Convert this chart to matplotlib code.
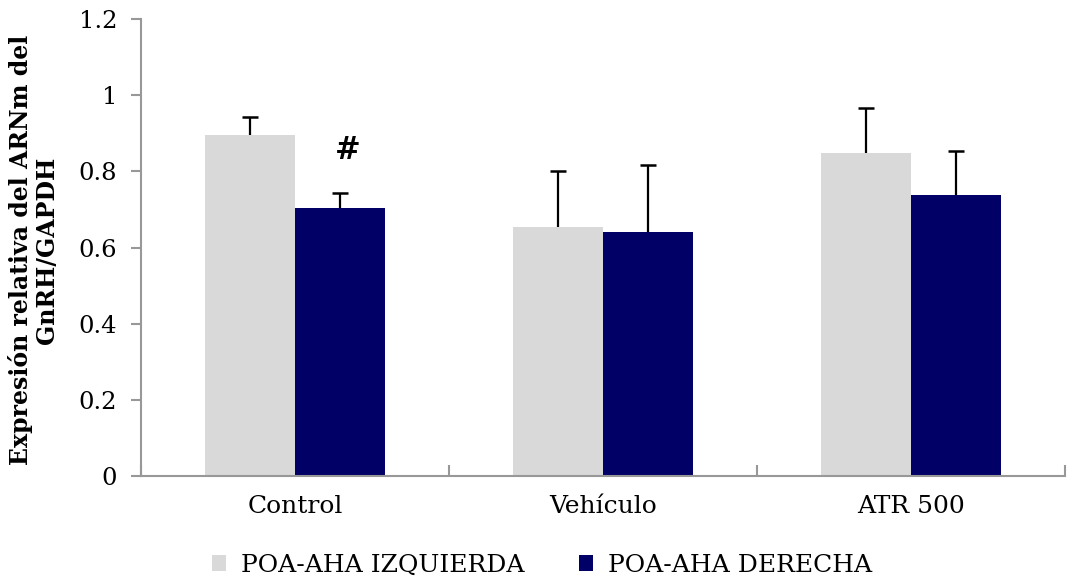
import numpy as np
import matplotlib as mpl
mpl.use('Agg')
import matplotlib.pyplot as plt

groups = ["Control", "Vehículo", "ATR 500"]
izquierda = [0.895, 0.654, 0.849]
izquierda_err = [0.047, 0.148, 0.117]
derecha = [0.703, 0.640, 0.738]
derecha_err = [0.040, 0.178, 0.117]
series_names = ["POA-AHA IZQUIERDA", "POA-AHA DERECHA"]

plt.rcParams['font.family'] = ['DejaVu Serif']

fig = plt.figure(figsize=(10.76, 5.81), dpi=100)
ax = fig.add_axes([0.131, 0.1807, 0.859, 0.7863])

x = np.arange(len(groups))
w = 0.292
gray_axis = "#989898"


def upper_errorbar(xs, vals, errs):
    # only the upper half of the error bar, with a cap on top
    tops = np.array(vals) + np.array(errs)
    ax.vlines(xs, vals, tops, color="black", lw=1.6, zorder=3)
    ax.plot(xs, tops, ls="none", marker="_", ms=12, mew=1.8,
            color="black", zorder=3)


ax.bar(x - w / 2, izquierda, w, color="#D9D9D9", label=series_names[0])
ax.bar(x + w / 2, derecha, w, color="#000066", label=series_names[1])
upper_errorbar(x - w / 2, izquierda, izquierda_err)
upper_errorbar(x + w / 2, derecha, derecha_err)

# significance mark over Control / derecha
ax.text(x[0] + w / 2 + 0.025, 0.856, "#", ha="center", va="center",
        fontsize=22, fontweight="bold")

ax.set_xlim(-0.5, 2.5)
ax.set_ylim(0, 1.2)
ax.set_yticks([0, 0.2, 0.4, 0.6, 0.8, 1.0, 1.2])
ax.set_yticklabels(["0", "0.2", "0.4", "0.6", "0.8", "1", "1.2"])
ax.set_xticks(x)
ax.set_xticklabels(groups)
ax.set_xticks([-0.5, 0.5, 1.5, 2.5], minor=True)
ax.tick_params(axis="x", which="major", length=0, pad=14, labelsize=18)
ax.tick_params(axis="x", which="minor", direction="in", length=8,
               color=gray_axis, width=1.5)
ax.tick_params(axis="y", direction="out", length=7, color=gray_axis,
               width=1.5, labelsize=17.5, pad=10)

for side in ["top", "right"]:
    ax.spines[side].set_visible(False)
for side in ["left", "bottom"]:
    ax.spines[side].set_color(gray_axis)
    ax.spines[side].set_linewidth(1.5)

fig.text(0.031, 0.57, "Expresión relativa del ARNm del\nGnRH/GAPDH",
         rotation=90, ha="center", va="center", fontsize=17,
         fontweight="bold", multialignment="center", linespacing=1.1)

ax.legend(loc="center", bbox_to_anchor=(0.504, 0.027),
          bbox_transform=fig.transFigure, ncol=2, frameon=False,
          fontsize=18, handlelength=0.55, handleheight=0.55,
          handletextpad=0.6, columnspacing=2.2)

fig.savefig("out.png", dpi=100)
